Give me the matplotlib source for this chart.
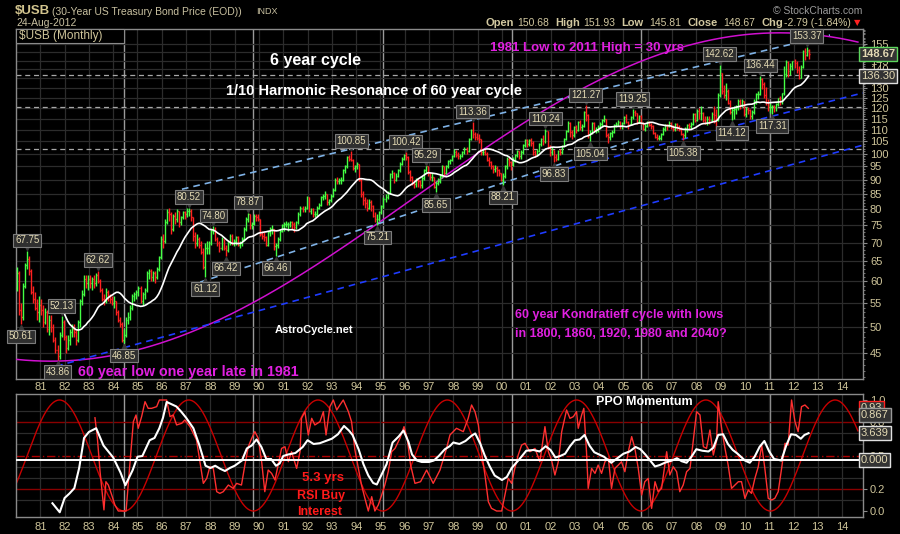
import numpy as np
import pandas as pd
import matplotlib
matplotlib.use("Agg")
import matplotlib.pyplot as plt
from matplotlib.collections import LineCollection
from matplotlib.transforms import offset_copy
from matplotlib.patches import Rectangle
import matplotlib.ticker as mticker

plt.rcParams['font.family'] = ['Liberation Sans', 'DejaVu Sans']

# ---------------- data (monthly, Jan 1980 .. Aug 2012) ----------------
start_year = 1980
first_open = 58.5
last_open = 150.68

closes = [
    62.0, 53.5, 52.0, 59.0, 64.0, 65.5, 62.5, 57.5, 56.0, 54.0, 53.0, 54.5,
    53.5, 51.0, 53.0, 49.5, 51.5, 50.0, 47.5, 45.5, 44.5, 48.5, 51.0, 48.0,
    46.0, 47.5, 49.0, 49.5, 49.0, 47.5, 51.0, 55.5, 57.0, 60.5, 59.5, 60.5,
    59.5, 60.5, 59.5, 61.5, 60.0, 58.0, 56.0, 55.5, 57.5, 56.5, 56.0, 55.0,
    55.5, 53.0, 51.5, 50.5, 47.5, 48.5, 51.5, 52.0, 54.0, 56.5, 57.0, 57.5,
    58.5, 55.5, 57.0, 58.0, 62.0, 62.5, 61.0, 62.0, 61.0, 63.0, 66.0, 71.0,
    70.5, 76.0, 79.0, 78.5, 74.0, 78.0, 77.0, 79.5, 76.0, 77.5, 79.0, 78.5,
    79.5, 79.5, 77.5, 72.0, 70.0, 71.0, 69.5, 67.5, 63.5, 68.5, 68.5, 70.0,
    73.5, 74.0, 71.0, 70.0, 68.5, 71.0, 68.5, 68.0, 70.0, 72.0, 70.0, 70.5,
    71.5, 69.5, 70.0, 71.0, 74.0, 77.0, 78.5, 75.0, 75.5, 78.0, 77.5, 77.0,
    72.5, 72.0, 71.5, 69.5, 73.0, 74.0, 74.0, 69.0, 69.5, 71.0, 73.5, 75.0,
    75.5, 75.5, 75.5, 76.0, 75.5, 74.5, 76.0, 78.5, 80.5, 80.0, 80.5, 84.0,
    79.5, 80.0, 78.5, 78.5, 80.5, 81.5, 84.0, 84.5, 85.0, 82.5, 83.0, 84.5,
    86.5, 90.0, 89.5, 90.0, 90.0, 93.5, 95.0, 98.5, 98.0, 97.5, 94.5, 95.0,
    96.0, 90.0, 85.0, 83.0, 82.0, 80.5, 82.5, 81.0, 78.0, 77.0, 77.0, 79.0,
    81.0, 83.5, 84.0, 85.5, 92.0, 92.5, 90.0, 91.5, 93.5, 96.0, 98.0, 99.5,
    98.5, 93.0, 91.0, 89.0, 88.5, 90.0, 89.5, 88.0, 90.5, 93.5, 95.0, 92.5,
    91.0, 91.0, 87.5, 89.0, 89.5, 91.5, 95.0, 92.5, 95.0, 97.0, 97.5, 99.0,
    100.5, 99.5, 99.0, 99.0, 100.5, 102.0, 101.0, 106.0, 110.0, 108.0, 107.0, 106.5,
    106.0, 100.5, 100.5, 100.0, 97.5, 96.5, 95.0, 94.0, 94.5, 93.5, 92.5, 90.0,
    91.5, 95.0, 98.0, 96.5, 95.5, 97.5, 99.5, 101.0, 99.0, 100.5, 103.5, 105.5,
    104.0, 105.5, 104.5, 100.5, 99.5, 101.0, 104.0, 106.0, 105.0, 109.5, 103.0, 100.5,
    101.5, 98.5, 98.0, 101.0, 100.5, 103.0, 106.0, 109.5, 113.0, 109.0, 107.5, 111.0,
    110.0, 113.5, 111.0, 111.5, 118.0, 116.5, 107.5, 108.5, 113.0, 110.0, 110.0, 111.0,
    112.5, 114.5, 115.0, 107.5, 107.0, 108.5, 109.0, 112.0, 112.5, 113.5, 111.5, 113.0,
    115.5, 113.5, 112.5, 115.5, 118.0, 117.5, 113.5, 116.0, 113.0, 110.5, 111.5, 113.5,
    112.0, 111.5, 108.5, 107.0, 106.5, 106.5, 108.0, 110.5, 112.0, 111.5, 113.0, 111.5,
    110.5, 112.5, 111.0, 110.5, 108.0, 107.5, 110.5, 112.0, 111.5, 112.5, 117.0, 114.5,
    118.5, 117.5, 117.5, 114.5, 113.0, 115.0, 114.5, 117.0, 116.5, 114.5, 126.5, 138.0,
    128.5, 126.5, 128.5, 122.5, 118.0, 119.0, 119.5, 120.5, 123.5, 121.5, 123.5, 117.0,
    119.5, 119.0, 116.0, 118.0, 123.0, 127.0, 127.0, 134.5, 132.0, 126.5, 123.0, 120.5,
    120.5, 121.0, 120.5, 122.0, 125.0, 123.5, 127.3, 137.5, 144.0, 139.0, 142.0, 144.5,
    143.5, 139.5, 135.5, 141.5, 150.5, 148.5, 151.46, 148.67,
]

highs = [
    63.5, 62.5, 55.0, 59.5, 64.5, 67.75, 66.5, 63.0, 59.0, 57.5, 56.0, 56.5,
    56.0, 54.5, 54.0, 53.5, 52.5, 52.5, 50.5, 48.0, 46.5, 49.0, 52.13, 51.5,
    48.5, 48.5, 49.5, 50.5, 50.5, 49.5, 51.5, 56.0, 58.0, 61.5, 61.5, 61.5,
    61.5, 61.0, 61.5, 62.0, 62.62, 60.5, 58.5, 57.0, 58.5, 58.0, 57.0, 56.5,
    56.5, 55.5, 53.5, 52.0, 51.0, 49.5, 52.0, 53.0, 54.5, 57.0, 57.5, 58.0,
    59.0, 59.0, 57.5, 58.5, 62.5, 63.0, 63.0, 62.5, 62.5, 63.5, 66.5, 72.0,
    72.5, 77.0, 80.0, 80.3, 79.0, 78.5, 79.0, 80.0, 79.5, 78.0, 79.5, 79.5,
    80.3, 80.52, 80.0, 77.5, 73.0, 72.5, 71.5, 70.5, 68.5, 70.0, 70.5, 70.5,
    74.0, 74.8, 74.5, 71.5, 70.5, 71.5, 71.0, 69.5, 70.5, 72.5, 72.5, 71.0,
    72.0, 72.0, 70.5, 71.5, 74.5, 77.5, 78.87, 78.5, 76.0, 78.5, 78.5, 78.5,
    77.0, 73.5, 73.0, 72.0, 73.5, 74.5, 75.0, 74.0, 70.0, 71.5, 74.0, 75.5,
    76.0, 76.5, 76.0, 76.5, 76.5, 76.0, 76.5, 79.0, 81.0, 81.0, 81.0, 84.5,
    84.0, 80.5, 80.5, 79.5, 81.0, 82.0, 84.5, 85.0, 86.0, 85.0, 83.5, 85.0,
    87.0, 90.5, 91.0, 90.5, 91.0, 94.0, 95.5, 99.0, 99.5, 100.85, 98.0, 95.5,
    96.5, 96.0, 90.5, 86.0, 84.0, 83.5, 83.5, 83.0, 81.5, 79.0, 78.5, 79.5,
    81.5, 84.0, 85.0, 86.0, 92.5, 93.5, 93.0, 92.5, 94.0, 96.5, 98.5, 100.0,
    100.42, 99.0, 93.5, 91.5, 90.0, 90.5, 90.5, 90.0, 91.5, 94.0, 95.29, 95.0,
    93.0, 92.5, 91.0, 89.5, 90.5, 92.0, 95.5, 95.0, 95.5, 97.5, 98.0, 99.5,
    102.0, 101.5, 100.5, 100.0, 101.0, 102.5, 102.5, 106.5, 110.5, 113.36, 109.0, 108.5,
    108.0, 106.0, 102.0, 102.0, 100.5, 98.5, 97.0, 95.5, 95.5, 95.0, 94.0, 92.5,
    92.5, 95.5, 98.5, 98.5, 97.0, 98.5, 100.0, 101.5, 101.0, 101.5, 104.0, 106.0,
    106.0, 106.0, 106.5, 105.0, 101.5, 102.0, 104.5, 106.5, 107.5, 110.24, 109.5, 103.5,
    102.5, 101.5, 100.0, 101.5, 102.0, 103.5, 106.5, 110.0, 114.0, 113.5, 110.0, 111.5,
    112.0, 114.0, 114.5, 112.5, 118.5, 121.27, 117.0, 110.0, 113.5, 113.5, 111.0, 112.0,
    113.5, 115.0, 116.5, 115.0, 108.5, 109.0, 110.0, 112.5, 113.5, 114.5, 114.0, 113.5,
    116.0, 117.0, 114.0, 116.0, 119.25, 119.0, 117.5, 116.5, 116.5, 113.5, 112.5, 114.0,
    114.0, 113.0, 112.0, 109.0, 108.0, 107.5, 108.5, 111.0, 112.5, 112.5, 114.0, 113.5,
    112.0, 113.0, 113.0, 112.0, 111.0, 108.5, 111.0, 112.5, 113.0, 113.5, 117.5, 117.5,
    119.5, 120.0, 121.0, 118.0, 116.0, 116.0, 116.0, 118.0, 121.0, 119.5, 127.5, 142.62,
    138.0, 131.5, 132.5, 129.5, 124.0, 120.5, 121.0, 121.5, 124.5, 124.5, 124.5, 123.5,
    120.5, 120.5, 119.5, 119.0, 124.5, 127.5, 128.5, 136.44, 135.5, 133.0, 130.5, 124.5,
    122.5, 121.5, 121.5, 122.5, 125.0, 126.0, 127.5, 142.0, 145.5, 144.5, 143.5, 145.0,
    146.0, 145.0, 142.0, 142.5, 151.0, 152.5, 153.37, 151.93,
]

lows = [
    57.8, 52.5, 50.61, 51.5, 58.5, 63.0, 61.5, 57.0, 55.0, 53.5, 51.5, 51.0,
    52.5, 50.0, 50.5, 49.0, 48.5, 49.0, 47.0, 45.0, 43.86, 44.0, 48.0, 47.5,
    45.0, 45.5, 46.5, 48.0, 48.0, 46.5, 47.0, 50.0, 54.5, 56.5, 58.5, 58.0,
    58.5, 58.0, 58.5, 59.0, 59.5, 57.5, 55.5, 54.5, 55.0, 55.5, 55.0, 54.5,
    54.0, 52.5, 51.0, 50.0, 47.0, 46.85, 48.0, 50.5, 51.5, 53.5, 55.5, 56.0,
    56.5, 55.0, 54.5, 56.0, 57.5, 60.5, 60.0, 60.0, 59.5, 60.5, 62.5, 65.5,
    68.5, 70.0, 75.5, 76.5, 72.5, 73.5, 75.5, 76.0, 74.5, 75.0, 77.0, 77.0,
    77.5, 78.0, 76.5, 70.5, 68.5, 69.0, 68.5, 67.0, 63.0, 61.12, 67.0, 67.0,
    69.5, 72.5, 70.5, 69.0, 67.5, 68.0, 68.0, 66.42, 67.5, 69.5, 69.5, 69.0,
    69.5, 69.0, 68.5, 69.0, 70.5, 73.5, 76.0, 74.0, 74.0, 75.0, 76.5, 76.5,
    72.0, 71.0, 70.5, 69.0, 69.0, 72.0, 72.5, 68.0, 66.46, 68.5, 70.5, 73.0,
    73.5, 74.5, 73.5, 74.5, 74.0, 73.0, 74.0, 75.5, 78.0, 79.0, 79.0, 80.0,
    79.0, 78.5, 77.5, 77.5, 78.0, 80.0, 81.0, 83.0, 83.5, 81.5, 81.5, 82.5,
    84.0, 86.0, 88.5, 88.5, 88.5, 89.5, 92.5, 94.5, 97.0, 97.0, 93.5, 93.0,
    94.0, 89.5, 84.0, 81.5, 80.5, 79.5, 80.0, 79.5, 77.5, 76.0, 75.21, 76.5,
    78.5, 80.5, 82.5, 83.5, 85.0, 90.5, 89.0, 89.5, 91.0, 93.0, 95.5, 97.5,
    97.5, 92.0, 89.5, 88.0, 87.0, 87.5, 87.5, 87.0, 87.0, 90.0, 92.5, 91.5,
    90.0, 89.5, 87.0, 85.65, 88.0, 89.0, 90.5, 91.5, 92.0, 94.5, 96.0, 97.0,
    98.5, 98.5, 98.0, 98.0, 98.5, 100.0, 100.0, 100.5, 105.5, 106.5, 105.5, 105.5,
    104.5, 99.5, 99.5, 99.5, 97.0, 95.0, 94.0, 92.5, 93.0, 91.5, 91.5, 89.5,
    88.21, 90.5, 94.0, 95.0, 93.5, 95.0, 96.5, 98.5, 98.0, 98.0, 100.0, 102.5,
    102.5, 103.0, 103.0, 99.5, 98.5, 99.0, 100.5, 103.0, 103.5, 104.5, 102.0, 99.0,
    99.5, 96.83, 97.0, 97.5, 99.5, 100.0, 102.5, 105.5, 109.0, 107.0, 106.0, 107.0,
    108.5, 109.5, 110.0, 109.5, 111.0, 114.0, 106.5, 105.04, 108.0, 109.0, 108.5, 109.0,
    110.5, 111.5, 113.5, 107.0, 104.5, 105.5, 107.0, 108.5, 111.0, 111.5, 110.5, 110.5,
    112.5, 113.0, 110.5, 112.0, 115.0, 116.0, 112.5, 113.0, 112.5, 110.0, 109.5, 111.0,
    111.5, 110.5, 108.0, 106.5, 105.5, 105.5, 105.5, 107.5, 109.5, 110.0, 111.0, 110.5,
    109.5, 109.5, 110.0, 109.5, 107.5, 105.38, 106.5, 109.0, 110.0, 110.5, 112.0, 113.5,
    114.0, 115.0, 114.5, 113.5, 112.5, 112.0, 112.5, 114.0, 113.0, 110.5, 114.0, 125.5,
    127.0, 125.0, 124.0, 122.0, 117.0, 114.12, 115.0, 117.0, 119.0, 119.5, 120.5, 116.0,
    115.5, 117.0, 115.0, 115.0, 117.0, 122.0, 124.5, 126.5, 129.5, 125.0, 121.5, 118.5,
    117.5, 117.31, 118.0, 118.5, 121.0, 121.5, 122.0, 126.5, 136.0, 136.0, 137.0, 139.5,
    140.5, 138.0, 134.5, 135.0, 140.5, 145.5, 147.5, 145.81,
]

# swing high/low labels: (year, month), value, kind
piv_dates = [(1980, 3), (1980, 6), (1981, 9), (1981, 11), (1983, 5), (1984, 6),
             (1987, 2), (1987, 10), (1988, 2), (1988, 8), (1989, 7), (1990, 9),
             (1993, 10), (1994, 11), (1996, 1), (1996, 11), (1997, 4), (1998, 10),
             (2000, 1), (2001, 10), (2002, 2), (2003, 6), (2003, 8), (2005, 5),
             (2007, 6), (2008, 12), (2009, 6), (2010, 8), (2011, 2), (2012, 7)]
piv_values = [50.61, 67.75, 43.86, 52.13, 62.62, 46.85, 80.52, 61.12, 74.80, 66.42,
              78.87, 66.46, 100.85, 75.21, 100.42, 95.29, 85.65, 113.36, 88.21, 110.24,
              96.83, 121.27, 105.04, 119.25, 105.38, 142.62, 114.12, 136.44, 117.31, 153.37]
piv_kinds = ['L', 'H', 'L', 'H', 'H', 'L', 'H', 'L', 'H', 'L', 'H', 'L', 'H', 'L', 'H',
             'H', 'L', 'H', 'L', 'H', 'L', 'H', 'L', 'H', 'L', 'H', 'L', 'H', 'L', 'H']

# PPO momentum (white line)
ppo_years = [1981.50, 1981.80, 1982.00, 1982.20, 1982.40, 1982.60, 1982.80, 1983.00, 1983.30,
             1983.60, 1983.80, 1984.00, 1984.30, 1984.50, 1984.80, 1985.00, 1985.20, 1985.50,
             1985.70, 1985.90, 1986.05, 1986.20, 1986.40, 1986.60, 1986.80, 1987.00, 1987.30,
             1987.55, 1987.80, 1988.00, 1988.20, 1988.40, 1988.60, 1988.80, 1989.00, 1989.30,
             1989.50, 1989.70, 1989.90, 1990.10, 1990.30, 1990.50, 1990.70, 1990.85, 1991.00,
             1991.20, 1991.50, 1991.80, 1992.00, 1992.25, 1992.50, 1992.75, 1993.00, 1993.25,
             1993.50, 1993.70, 1993.85, 1994.10, 1994.30, 1994.50, 1994.70, 1994.85, 1995.00,
             1995.25, 1995.50, 1995.75, 1995.95, 1996.15, 1996.30, 1996.50, 1996.70, 1997.00,
             1997.20, 1997.40, 1997.65, 1997.85, 1998.00, 1998.25, 1998.50, 1998.75, 1998.90,
             1999.10, 1999.30, 1999.50, 1999.70, 2000.00, 2000.20, 2000.40, 2000.70, 2001.00,
             2001.30, 2001.55, 2001.80, 2002.00, 2002.20, 2002.40, 2002.60, 2002.80, 2003.00,
             2003.20, 2003.40, 2003.60, 2003.80, 2004.00, 2004.20, 2004.50, 2004.75, 2005.00,
             2005.25, 2005.50, 2005.70, 2005.90, 2006.10, 2006.30, 2006.50, 2006.70, 2007.00,
             2007.20, 2007.40, 2007.60, 2007.80, 2008.00, 2008.25, 2008.50, 2008.70, 2008.90,
             2009.10, 2009.30, 2009.50, 2009.70, 2010.00, 2010.20, 2010.40, 2010.60, 2010.80,
             2011.00, 2011.20, 2011.50, 2011.70, 2011.90, 2012.10, 2012.30, 2012.45, 2012.62]
ppo_values = [-5.7, -6.9, -5.0, -4.4, -3.7, -1.0, 3.0, 3.8, 4.3,
              2.0, 1.2, 0.4, -1.6, -3.3, -1.3, 0.5, 0.6, 2.7,
              3.0, 4.3, 5.7, 7.8, 7.5, 7.2, 6.5, 5.7, 4.3,
              2.0, -0.7, -1.0, -0.7, -1.1, -1.4, -1.0, -0.7, 0.0,
              1.6, 2.0, 2.8, 1.8, 0.2, 0.2, -0.7, -0.4, 0.6,
              0.8, 1.0, 1.8, 2.7, 2.2, 2.3, 2.6, 2.9, 3.5,
              4.6, 4.0, 3.4, 1.5, -0.5, -2.0, -3.0, -3.2, -2.2,
              -0.5, 2.4, 3.2, 4.0, 2.5, 0.8, 0.0, -0.2, -0.2,
              0.0, 0.6, 1.5, 1.9, 2.4, 2.2, 2.6, 3.3, 3.6,
              2.3, 0.6, -0.8, -2.0, -2.6, -2.2, -1.0, 0.1, 1.3,
              1.4, 1.2, 1.9, 1.4, 0.4, 0.6, 0.9, 1.9, 2.7,
              2.8, 3.4, 2.0, 1.1, 0.8, 0.5, -0.3, 0.3, 0.9,
              1.2, 1.8, 1.5, 0.8, 0.0, -0.8, -0.6, -0.3, 0.0,
              0.3, -0.1, -0.3, 0.5, 1.5, 1.3, 1.2, 1.7, 3.4,
              3.5, 2.2, 1.4, 0.9, 0.0, -0.3, 0.5, 1.8, 2.6,
              1.2, 0.2, 0.0, 2.0, 3.5, 3.4, 2.9, 3.4, 3.639]

# RSI-based 0..1 oscillator (bright red line)
rsi_years = [1983.25, 1983.35, 1983.46, 1983.62, 1983.70, 1983.80, 1983.94, 1984.07, 1984.21,
             1984.42, 1984.53, 1984.83, 1984.94, 1985.03, 1985.17, 1985.31, 1985.44, 1985.58,
             1985.79, 1985.90, 1986.20, 1986.34, 1986.47, 1986.61, 1986.82, 1986.95, 1987.16,
             1987.43, 1987.57, 1987.71, 1987.85, 1987.98, 1988.12, 1988.26, 1988.39, 1988.53,
             1988.74, 1988.94, 1989.08, 1989.28, 1989.42, 1989.56, 1989.70, 1989.83, 1989.97,
             1990.11, 1990.24, 1990.38, 1990.52, 1990.66, 1990.79, 1990.93, 1991.07, 1991.21,
             1991.34, 1991.55, 1991.69, 1991.75, 1991.89, 1992.03, 1992.17, 1992.30, 1992.51,
             1992.65, 1992.76, 1992.92, 1993.06, 1993.20, 1993.33, 1993.47, 1993.68, 1993.81,
             1993.95, 1994.09, 1994.22, 1994.36, 1994.50, 1994.64, 1994.77, 1994.91, 1995.05,
             1995.18, 1995.32, 1995.46, 1995.60, 1995.80, 1995.97, 1996.10, 1996.24, 1996.42,
             1996.65, 1996.90, 1997.17, 1997.45, 1997.72, 1997.86, 1998.13, 1998.41, 1998.61,
             1998.75, 1998.89, 1999.03, 1999.16, 1999.30, 1999.44, 1999.57, 1999.78, 1999.99,
             2000.12, 2000.26, 2000.40, 2000.53, 2000.67, 2000.81, 2000.95, 2001.15, 2001.36,
             2001.56, 2001.77, 2001.91, 2002.04, 2002.18, 2002.32, 2002.46, 2002.66, 2002.80,
             2002.94, 2003.07, 2003.14, 2003.28, 2003.37, 2003.48, 2003.55, 2003.69, 2003.83,
             2003.96, 2004.10, 2004.24, 2004.38, 2004.51, 2004.65, 2004.79, 2004.92, 2005.06,
             2005.20, 2005.34, 2005.47, 2005.61, 2005.75, 2005.88, 2006.02, 2006.16, 2006.30,
             2006.43, 2006.57, 2006.78, 2006.91, 2007.05, 2007.19, 2007.32, 2007.46, 2007.60,
             2007.74, 2007.87, 2008.01, 2008.15, 2008.29, 2008.42, 2008.56, 2008.70, 2008.83,
             2008.90, 2009.04, 2009.18, 2009.31, 2009.45, 2009.59, 2009.73, 2009.86, 2010.00,
             2010.14, 2010.27, 2010.41, 2010.55, 2010.69, 2010.82, 2010.96, 2011.10, 2011.23,
             2011.37, 2011.51, 2011.65, 2011.78, 2011.92, 2012.06, 2012.19, 2012.33, 2012.47,
             2012.61]
rsi_values = [0.84, 0.655, 0.354, 0.01, 0.264, 0.234, 0.144, 0.054, 0.0,
              0.0, 0.0, 0.805, 0.865, 0.745, 0.85, 0.985, 0.925, 0.925,
              0.94, 1.0, 1.0, 0.85, 0.865, 0.775, 0.79, 0.82, 0.76,
              0.64, 0.444, 0.249, 0.294, 0.399, 0.384, 0.174, 0.159, 0.174,
              0.234, 0.204, 0.249, 0.234, 0.414, 0.579, 0.655, 0.715, 0.655,
              0.444, 0.174, 0.369, 0.339, 0.279, 0.414, 0.564, 0.579, 0.444,
              0.534, 0.384, 0.534, 0.835, 0.895, 0.685, 0.835, 0.775, 0.805,
              0.895, 0.685, 0.94, 1.0, 0.91, 0.955, 1.0, 0.895, 0.805,
              0.549, 0.384, 0.234, 0.114, 0.0, 0.129, 0.0, 0.054, 0.144,
              0.234, 0.354, 0.534, 0.564, 0.655, 0.76, 0.655, 0.414, 0.249,
              0.264, 0.369, 0.249, 0.369, 0.564, 0.685, 0.745, 0.715, 0.835,
              0.955, 0.895, 0.775, 0.534, 0.324, 0.084, 0.024, 0.0, 0.0,
              0.144, 0.294, 0.249, 0.384, 0.504, 0.594, 0.61, 0.534, 0.564,
              0.444, 0.76, 0.534, 0.459, 0.324, 0.444, 0.715, 0.91, 0.835,
              0.85, 0.895, 0.745, 0.865, 0.925, 0.534, 0.204, 0.384, 0.339,
              0.414, 0.339, 0.444, 0.474, 0.204, 0.384, 0.414, 0.444, 0.354,
              0.534, 0.67, 0.564, 0.384, 0.144, 0.264, 0.294, 0.024, 0.264,
              0.174, 0.204, 0.534, 0.324, 0.399, 0.354, 0.174, 0.234, 0.354,
              0.384, 0.625, 0.895, 0.865, 0.579, 0.564, 0.73, 0.504, 0.625,
              0.985, 0.745, 0.564, 0.414, 0.204, 0.234, 0.264, 0.264, 0.114,
              0.189, 0.159, 0.294, 0.399, 0.594, 0.384, 0.114, 0.099, 0.114,
              0.174, 0.384, 0.61, 0.594, 1.0, 0.805, 0.715, 0.94, 0.955,
              0.925]

price_ticks = list(range(45, 160, 5))
year_ticks = list(range(1981, 2015))
level_lines = [137.0, 120.6, 101.7]

upper_channel_x, upper_channel_y = [1986.83, 2013.50], [86.7, 160.6]
lower_channel_x, lower_channel_y = [1987.58, 2005.80], [59.8, 106.8]
mid_trend_x, mid_trend_y = [2001.35, 2014.85], [91.0, 127.4]
long_trend_x, long_trend_y = [1981.19, 2014.85], [42.2, 103.4]

arc_low, arc_high = 43.6, 162.0          # 60-year cycle arc
arc_peak_year, arc_period = 2011.43, 60.0
cycle_first_trough, cycle_period = 1984.45, 5.32   # 5.3-year cycle
ma_len = 20
sine_last = 0.867

# ---------------- computations ----------------
c = np.array(closes, float)
h = np.array(highs, float)
l = np.array(lows, float)
n = len(c)
t = start_year + (np.arange(n) + 0.5) / 12.0
o = np.r_[first_open, c[:-1]]
o[-1] = last_open
up = c >= o
ma = pd.Series(c).rolling(ma_len).mean().values

# ---------------- figure ----------------
W, H = 900, 534
fig = plt.figure(figsize=(9, 5.34), dpi=100, facecolor='black')

def rect(x0, y0, x1, y1):
    return [x0 / W, 1 - y1 / H, (x1 - x0) / W, (y1 - y0) / H]

def ftext(x, y, s_, **kw):
    kw.setdefault('va', 'center')
    kw.setdefault('ha', 'left')
    fig.text(x / W, 1 - y / H, s_, **kw)

BEIGE = '#cfc59a'
GRID = '#2c2c2c'
FRAME = '#8a8a8a'
GREEN = '#44ff44'
RED = '#ff2020'
LBL = '#e4dab4'

ax = fig.add_axes(rect(16, 29, 863, 379))
ax2 = fig.add_axes(rect(16, 394, 863, 517))
xlim = (1980.0, 2014.86)

for a in (ax, ax2):
    a.set_facecolor('black')
    a.set_xlim(*xlim)
    for sp in a.spines.values():
        sp.set_color(FRAME)
        sp.set_linewidth(1.0)
    a.set_xticks(year_ticks)
    a.set_xticklabels([f"{y % 100:02d}" for y in year_ticks])
    a.tick_params(axis='x', length=0, colors=BEIGE, labelsize=8, pad=2.5)
    a.grid(True, axis='x', color=GRID, lw=0.9, zorder=0)

# main price panel
ax.set_yscale('log')
ax.set_ylim(40.6, 164.5)
ax.yaxis.set_major_locator(mticker.FixedLocator(price_ticks))
ax.yaxis.set_major_formatter(mticker.FixedFormatter([str(v) for v in price_ticks]))
ax.yaxis.set_minor_locator(mticker.FixedLocator([v for v in range(41, 165) if v % 5]))
ax.yaxis.set_minor_formatter(mticker.NullFormatter())
ax.yaxis.tick_right()
ax.tick_params(axis='y', which='major', length=3, color=FRAME, labelcolor=BEIGE, labelsize=8, pad=2)
ax.tick_params(axis='y', which='minor', length=1.5, color=FRAME)
ax.grid(True, axis='y', which='major', color=GRID, lw=0.9, zorder=0)

for yv in level_lines:
    ax.axhline(yv, color='#a8a8a8', lw=0.9, ls=(0, (4, 3)), zorder=2)

cyc_years = [cycle_first_trough + k * cycle_period for k in range(6)]
for a in (ax, ax2):
    for cy in cyc_years:
        a.axvline(cy, color='#9a9a9a', lw=1.0, zorder=1)

# 60-year arc
ta = np.linspace(1980.04, 2014.65, 500)
lmid = (np.log(arc_high) + np.log(arc_low)) / 2
lamp = (np.log(arc_high) - np.log(arc_low)) / 2
ax.plot(ta, np.exp(lmid + lamp * np.cos(2 * np.pi * (ta - arc_peak_year) / arc_period)),
        color='#d010d0', lw=1.1, zorder=3)

ax.plot(upper_channel_x, upper_channel_y, color='#7fb2e6', lw=1.2, ls=(0, (4, 3)), zorder=3)
ax.plot(lower_channel_x, lower_channel_y, color='#7fb2e6', lw=1.2, ls=(0, (4, 3)), zorder=3)
ax.plot(mid_trend_x, mid_trend_y, color='#1f3cff', lw=1.2, ls=(0, (4, 3)), zorder=3)
ax.plot(long_trend_x, long_trend_y, color='#1f3cff', lw=1.2, ls=(0, (4, 3)), zorder=3)

# OHLC bars
segs, cols = [], []
w = 0.035
for i in range(n):
    col = GREEN if up[i] else RED
    segs += [[(t[i], l[i]), (t[i], h[i])],
             [(t[i] - w, o[i]), (t[i], o[i])],
             [(t[i], c[i]), (t[i] + w, c[i])]]
    cols += [col] * 3
ax.add_collection(LineCollection(segs, colors=cols, linewidths=1.0, zorder=4))

ax.plot(t, ma, color='white', lw=1.2, zorder=5)

# pivot labels
for (yy, mm), v, k in zip(piv_dates, piv_values, piv_kinds):
    tx = yy + (mm - 0.5) / 12
    dy = 10.5 if k == 'H' else -12.5
    ax.annotate(f"{v:.2f}", (tx, v), xytext=(0, dy * 0.72), textcoords='offset points',
                ha='center', va='center', fontsize=7, color=LBL, zorder=7,
                annotation_clip=False,
                bbox=dict(boxstyle='square,pad=0.18', fc='#2f2f2f', ec='#7c7c7c', lw=0.8))
    mk = 'v' if k == 'H' else '^'
    off = offset_copy(ax.transData, fig=fig, x=0, y=(4 if k == 'H' else -4), units='dots')
    ax.plot([tx], [v], marker=mk, ms=5, color='#3a3a3a', mec='#3a3a3a', transform=off, zorder=6,
            clip_on=False)

def side_label(axis, val, text, ec, bold=False):
    axis.annotate(text, (1.0, val), xycoords=('axes fraction', 'data'), xytext=(-1.5, 0),
                  textcoords='offset points', ha='left', va='center', fontsize=8,
                  fontweight='bold' if bold else 'normal', color=LBL, zorder=9,
                  annotation_clip=False,
                  bbox=dict(boxstyle='square,pad=0.18', fc='#333333', ec=ec, lw=1.0))

side_label(ax, c[-1], f"{c[-1]:.2f}", '#5cd65c', bold=True)
side_label(ax, ma[-1], f"{ma[-1]:.2f}", '#e0e0e0')

# ---------------- lower panel ----------------
ax2.set_ylim(-0.054, 1.054)
for gv in [0.1, 0.3, 0.4, 0.6, 0.7, 0.9]:
    ax2.axhline(gv, color=GRID, lw=0.9, zorder=0)
ax2.axhline(0.8, color='#8a0000', lw=1.0, zorder=1)
ax2.axhline(0.2, color='#8a0000', lw=1.0, zorder=1)
ax2.axhline(0.5, color='#b00000', lw=1.0, ls=(0, (6, 2, 1, 2)), zorder=1)

ts = np.linspace(1980.0, 2014.65, 900)
ax2.plot(ts, 0.5 - 0.5 * np.cos(2 * np.pi * (ts - cycle_first_trough) / cycle_period),
         color='#c80000', lw=1.0, zorder=2)
ax2.plot(rsi_years, rsi_values, color='#ff3030', lw=1.0, zorder=3)

ax3 = ax2.twinx()
ax3.set_ylim(-7.53, 8.86)
ax3.set_xlim(*xlim)
ax3.axis('off')
ax3.axhline(0.0, color='white', lw=1.4, zorder=2)
ax3.plot(ppo_years, ppo_values, color='white', lw=1.5, zorder=4)

ax2.yaxis.tick_right()
ax2.set_yticks([0.0, 0.2, 0.5, 0.8, 1.0])
ax2.set_yticklabels(["0.0", "0.2", "0.5", "0.8", "1.0"])
ax2.tick_params(axis='y', left=False, labelleft=False, right=True, labelright=True,
                length=3, color=FRAME, labelcolor=BEIGE, labelsize=8, pad=2)
ax2.tick_params(axis='x', pad=3.5)

side_label(ax2, rsi_values[-1], f"{rsi_values[-1]:.2f}", '#ff2020')
side_label(ax2, sine_last, f"{sine_last:.3f}", '#9a9a9a')
side_label(ax3, ppo_values[-1], f"{ppo_values[-1]:.3f}", '#e0e0e0')
side_label(ax3, 0.0, "0.000", '#e0e0e0')

# ---------------- text ----------------
ftext(15, 10.5, r"\$USB", fontsize=9.5, fontweight='bold', color='#d2c48e')
ftext(52, 12, "(30-Year US Treasury Bond Price (EOD))", fontsize=7.5, color='#c8c0a0')
ftext(256, 12, "INDX", fontsize=6.5, color='#c8c0a0')
ftext(16, 23.5, "24-Aug-2012", fontsize=7.5, color='#c8c0a0')
ftext(862, 10.5, "\u00a9 StockCharts.com", ha='right', fontsize=7.5, color='#9a9a9a')

hdr = [(485, "Open", True), (517, "150.68", False), (555, "High", True), (583, "151.93", False),
       (621, "Low", True), (649, "145.81", False), (687, "Close", True), (723, "148.67", False),
       (761, "Chg", True), (784, "-2.79 (-1.84%)", False)]
for x, s_, b in hdr:
    ftext(x, 22.5, s_, fontsize=8 if b else 7.5, fontweight='bold' if b else 'normal', color='#d2c8a0')
ftext(857, 23, "\u25bc", fontsize=6, color='#ff2020', ha='center', family=['DejaVu Sans'])

# panel tag box
fig.patches.append(Rectangle((16 / W, 1 - 43 / H), 108 / W, 14 / H, transform=fig.transFigure,
                             fc='black', ec=FRAME, lw=0.8, zorder=9))
ftext(19, 36, r"\$USB (Monthly)", fontsize=8.5, color=BEIGE, zorder=10)

ftext(270, 60, "6 year cycle", fontsize=11.5, fontweight='bold', color='white')
ftext(226, 91, "1/10 Harmonic Resonance of 60 year cycle", fontsize=10.5, fontweight='bold', color='white')
ftext(275, 330, "AstroCycle.net", fontsize=8, fontweight='bold', color='white')
MAG = '#e020e0'
ftext(490, 48, "1981 Low to 2011 High = 30 yrs", fontsize=9.5, fontweight='bold', color=MAG)
ftext(515, 315, "60 year Kondratieff cycle with lows", fontsize=9, fontweight='bold', color=MAG)
ftext(515, 334, "in 1800, 1860, 1920, 1980 and 2040?", fontsize=9, fontweight='bold', color=MAG)
ftext(78, 372, "60 year low one year late in 1981", fontsize=10.3, fontweight='bold', color=MAG)

ftext(644, 402, "PPO Momentum", fontsize=9, fontweight='bold', color='white', ha='center')
ftext(302, 478, "5.3 yrs", fontsize=9.5, fontweight='bold', color='#ff1a1a')
ftext(297, 496, "RSI Buy", fontsize=9, fontweight='bold', color='#ff1a1a')
ftext(297, 512, "Interest", fontsize=9, fontweight='bold', color='#ff1a1a')

fig.savefig("out.png", dpi=100, facecolor='black')
